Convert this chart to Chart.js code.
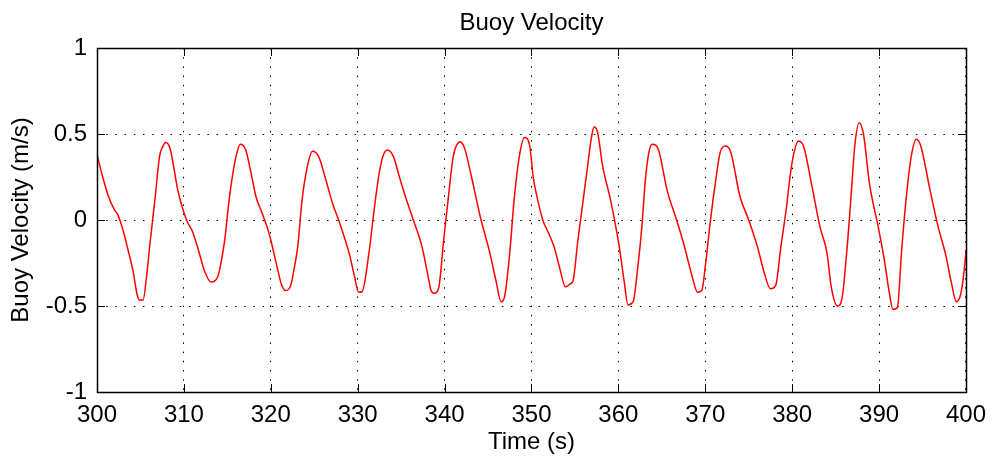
<!DOCTYPE html>
<html>
<head>
<meta charset="utf-8">
<script src="https://cdn.jsdelivr.net/npm/chart.js@4/dist/chart.umd.min.js"></script>
<style>
  html, body { margin: 0; padding: 0; background: #ffffff; }
  #wrap { width: 995px; height: 463px; }
</style>
</head>
<body>
<div id="wrap"><canvas id="c" width="995" height="463"></canvas></div>
<script>
// Buoy velocity record, 300-400 s
const timeS = [
  300.0, 300.6, 301.3, 302.0, 302.4, 303.0, 303.6, 304.2, 304.6, 304.9, 305.3, 305.7, 306.1, 306.7, 307.2, 307.6, 307.9, 308.4, 309.3,
  310.3, 311.0, 311.7, 312.4, 313.1, 313.9, 314.3, 314.7, 315.2, 315.6, 316.0, 316.5, 317.1, 317.7, 318.3, 319.0, 319.8,
  320.3, 320.8, 321.2, 321.7, 322.3, 322.7, 323.1, 323.6, 324.2, 324.8, 325.5, 326.3, 327.1, 327.8, 328.4, 329.0, 329.6,
  330.1, 330.5, 331.3, 331.8, 332.4, 332.9, 333.4, 334.1, 334.8, 335.5, 336.4, 337.4, 338.0, 338.5, 338.8, 339.3, 339.9,
  340.4, 341.0, 341.8, 342.3, 343.1, 344.1, 345.2, 345.9, 346.5, 346.9, 347.5, 348.0, 348.6, 349.2, 349.8,
  350.2, 350.7, 351.3, 352.0, 352.6, 353.3, 353.9, 354.5, 354.8, 355.3, 355.9, 356.5, 356.9, 357.2, 357.6, 358.2, 359.1,
  360.1, 360.7, 361.1, 361.7, 362.2, 362.7, 363.1, 363.5, 363.9, 364.6, 365.6, 366.7, 367.5, 368.5, 369.1, 369.6,
  370.0, 370.6, 371.2, 371.7, 372.3, 372.9, 374.0, 375.0, 376.0, 376.8, 377.5, 378.1, 378.7, 379.3, 379.8,
  380.2, 380.7, 381.3, 382.3, 383.2, 384.0, 384.5, 385.2, 385.7, 386.3, 386.8, 387.2, 387.7, 388.2, 388.9, 389.9,
  390.6, 391.2, 391.6, 392.1, 392.6, 393.1, 393.7, 394.3, 394.8, 395.8, 396.7, 397.7, 398.3, 398.9, 399.4, 399.8, 400.0
];
const velocity = [
  0.38, 0.26, 0.14, 0.06, 0.03, -0.06, -0.18, -0.31, -0.43, -0.465, -0.465, -0.33, -0.135, 0.135, 0.37, 0.43, 0.45, 0.417, 0.174,
  0.0, -0.068, -0.18, -0.30, -0.36, -0.33, -0.24, -0.116, 0.116, 0.26, 0.37, 0.44, 0.41, 0.28, 0.135, 0.04, -0.078,
  -0.18, -0.29, -0.37, -0.41, -0.38, -0.28, -0.155, 0.116, 0.31, 0.40, 0.37, 0.24, 0.097, 0.0, -0.09, -0.19, -0.32,
  -0.42, -0.417, -0.19, 0.02, 0.25, 0.37, 0.407, 0.37, 0.25, 0.135, 0.0, -0.155, -0.30, -0.417, -0.426, -0.40, -0.116,
  0.116, 0.37, 0.455, 0.417, 0.25, 0.02, -0.19, -0.35, -0.475, -0.446, -0.19, 0.116, 0.37, 0.48, 0.43,
  0.25, 0.12, 0.0, -0.08, -0.155, -0.29, -0.39, -0.37, -0.35, -0.135, 0.097, 0.33, 0.48, 0.54, 0.51, 0.31, 0.116,
  -0.155, -0.37, -0.494, -0.475, -0.29, -0.04, 0.23, 0.39, 0.44, 0.41, 0.174, 0.0, -0.135, -0.33, -0.42, -0.41,
  -0.27, 0.0, 0.23, 0.39, 0.43, 0.40, 0.135, 0.0, -0.155, -0.31, -0.40, -0.38, -0.155, 0.058, 0.27,
  0.39, 0.46, 0.43, 0.19, -0.04, -0.19, -0.39, -0.50, -0.465, -0.174, 0.155, 0.43, 0.566, 0.50, 0.21, -0.04,
  -0.23, -0.43, -0.52, -0.51, -0.174, 0.116, 0.37, 0.47, 0.43, 0.19, -0.02, -0.21, -0.36, -0.475, -0.43, -0.29, -0.18
];
const xTicks = [300, 310, 320, 330, 340, 350, 360, 370, 380, 390, 400];
const yTicks = [-1, -0.5, 0, 0.5, 1];
const yTickLabels = ['-1', '-0.5', '0', '0.5', '1'];

const points = timeS.map((t, i) => ({ x: t, y: velocity[i] }));
const FONT = "'Liberation Sans', Arial, sans-serif";
const FSIZE = 24;

// Box frame with short inward tick marks on all four sides
const framePlugin = {
  id: 'frame',
  afterDatasetsDraw(chart) {
    const { ctx, chartArea: a, scales } = chart;
    const len = 8;
    ctx.save();
    ctx.strokeStyle = '#000';
    ctx.lineWidth = 1;
    ctx.beginPath();
    xTicks.forEach(v => {
      const px = Math.round(scales.x.getPixelForValue(v)) + 0.5;
      ctx.moveTo(px, a.bottom); ctx.lineTo(px, a.bottom - len);
      ctx.moveTo(px, a.top); ctx.lineTo(px, a.top + len);
    });
    yTicks.forEach(v => {
      const py = Math.round(scales.y.getPixelForValue(v)) + 0.5;
      ctx.moveTo(a.left, py); ctx.lineTo(a.left + len, py);
      ctx.moveTo(a.right, py); ctx.lineTo(a.right - len, py);
    });
    ctx.stroke();
    ctx.lineWidth = 1.5;
    ctx.strokeRect(Math.round(a.left) + 0.5, Math.round(a.top) + 0.5,
                   Math.round(a.right - a.left), Math.round(a.bottom - a.top));
    ctx.restore();
  }
};

new Chart(document.getElementById('c'), {
  type: 'line',
  data: {
    datasets: [{
      data: points,
      borderColor: '#ff0000',
      borderWidth: 1.5,
      pointRadius: 0,
      fill: false,
      cubicInterpolationMode: 'monotone'
    }]
  },
  options: {
    responsive: false,
    animation: false,
    layout: { padding: { left: 0, right: 25, top: 0, bottom: 0 } },
    plugins: {
      legend: { display: false },
      tooltip: { enabled: false },
      title: {
        display: true,
        fullSize: false,
        text: 'Buoy Velocity',
        color: '#000',
        font: { family: FONT, size: FSIZE, weight: 'normal', lineHeight: 1.2 },
        padding: { top: 9, bottom: 10.2 }
      }
    },
    scales: {
      x: {
        type: 'linear',
        min: 300, max: 400,
        afterFit: s => { s.height = 71; },
        afterBuildTicks: s => { s.ticks = xTicks.map(v => ({ value: v })); },
        ticks: { color: '#000', font: { family: FONT, size: FSIZE }, padding: 9, maxRotation: 0, autoSkip: false },
        grid: { color: '#000', lineWidth: 1, drawTicks: false },
        border: { display: false, dash: [1.5, 7.7] },
        title: { display: true, text: 'Time (s)', color: '#000', font: { family: FONT, size: FSIZE }, padding: { top: 0, bottom: 6 } }
      },
      y: {
        type: 'linear',
        min: -1, max: 1,
        afterFit: s => { s.width = 97; },
        afterBuildTicks: s => { s.ticks = yTicks.map(v => ({ value: v })); },
        ticks: {
          color: '#000', font: { family: FONT, size: FSIZE }, padding: 10, autoSkip: false,
          callback: (v) => yTickLabels[yTicks.indexOf(v)]
        },
        grid: { color: '#000', lineWidth: 1, drawTicks: false },
        border: { display: false, dash: [1.5, 7.7] },
        title: { display: true, text: 'Buoy Velocity (m/s)', color: '#000', font: { family: FONT, size: FSIZE }, padding: { top: 7, bottom: 0 } }
      }
    }
  },
  plugins: [framePlugin]
});
</script>
</body>
</html>
